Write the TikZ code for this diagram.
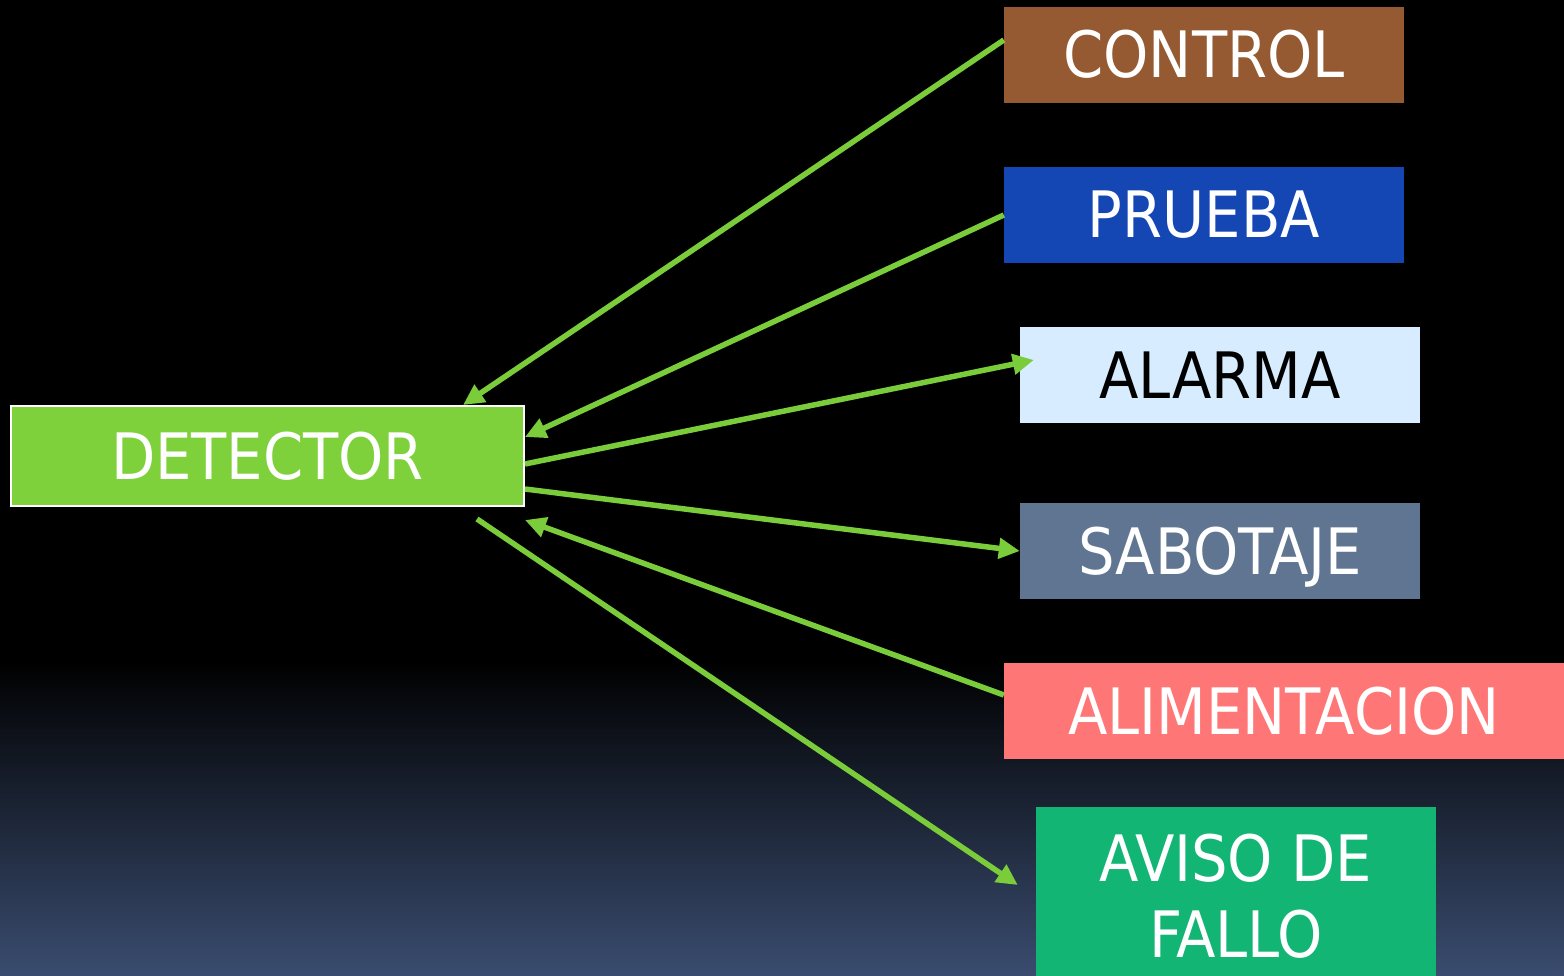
\documentclass[tikz,border=0pt]{standalone}
\usepackage{fontspec}
\setmainfont{DejaVu Sans Condensed}
\usetikzlibrary{arrows.meta}
\definecolor{cControl}{HTML}{955A31}
\definecolor{cPrueba}{HTML}{1446B4}
\definecolor{cAlarma}{HTML}{D7ECFF}
\definecolor{cSabot}{HTML}{5F7591}
\definecolor{cAlim}{HTML}{FF7676}
\definecolor{cAviso}{HTML}{13B574}
\definecolor{cDet}{HTML}{7ED13B}
\definecolor{cArrow}{HTML}{7ACC3A}
\definecolor{cBottom}{HTML}{3A4C6F}
\tikzset{
  box/.style={rectangle, inner sep=0pt, minimum width=400pt, minimum height=96pt, text=white,
    font=\fontsize{64}{76}\selectfont, align=center},
  onebox/.style={box, text height=46pt, text depth=0pt},
  conn/.style={draw=cArrow, line width=5.5pt, -{Triangle[length=21pt,width=20pt]}},
}
\begin{document}
\begin{tikzpicture}[x=1pt,y=-1pt]
\useasboundingbox (0,0) rectangle (1564,976);
\fill[black] (0,0) rectangle (1564,976);
\shade[top color=black, bottom color=cBottom] (0,660) rectangle (1564,976);
\begin{scope}
\clip (0,0) rectangle (1564,976);
\node[onebox, fill=cControl] (control) at (1204,55) {CONTROL};
\node[onebox, fill=cPrueba] (prueba) at (1204,215) {PRUEBA};
\node[onebox, fill=cAlarma, text=black] (alarma) at (1220,375) {ALARMA};
\node[onebox, fill=cSabot] (sabotaje) at (1220,551) {SABOTAJE};
\node[onebox, fill=cAlim, minimum width=560pt] (alim) at (1284,711) {ALIMENTACION};
\node[box, fill=cAviso, minimum height=178pt] (aviso) at (1236,896) {AVISO DE\\FALLO};
\node[onebox, fill=cDet, draw=white, line width=2pt, minimum width=513pt, minimum height=100pt] (det) at (267.5,456) {DETECTOR};
\end{scope}
\draw[conn] ([yshift=15pt]control.west) -- ([xshift=-62pt]det.north east);
\draw[conn] (prueba.west) -- ([yshift=19pt]det.east);
\draw[conn] ([yshift=-8pt]det.east) -- ([xshift=14pt,yshift=15pt]alarma.west);
\draw[conn] ([yshift=-33pt]det.east) -- (sabotaje.west);
\draw[conn] ([yshift=16pt]alim.west) -- ([yshift=-13pt]det.south east);
\draw[conn] ([xshift=-48pt,yshift=-12pt]det.south east) -- ([xshift=-18pt,yshift=11pt]aviso.west);
\end{tikzpicture}
\end{document}
